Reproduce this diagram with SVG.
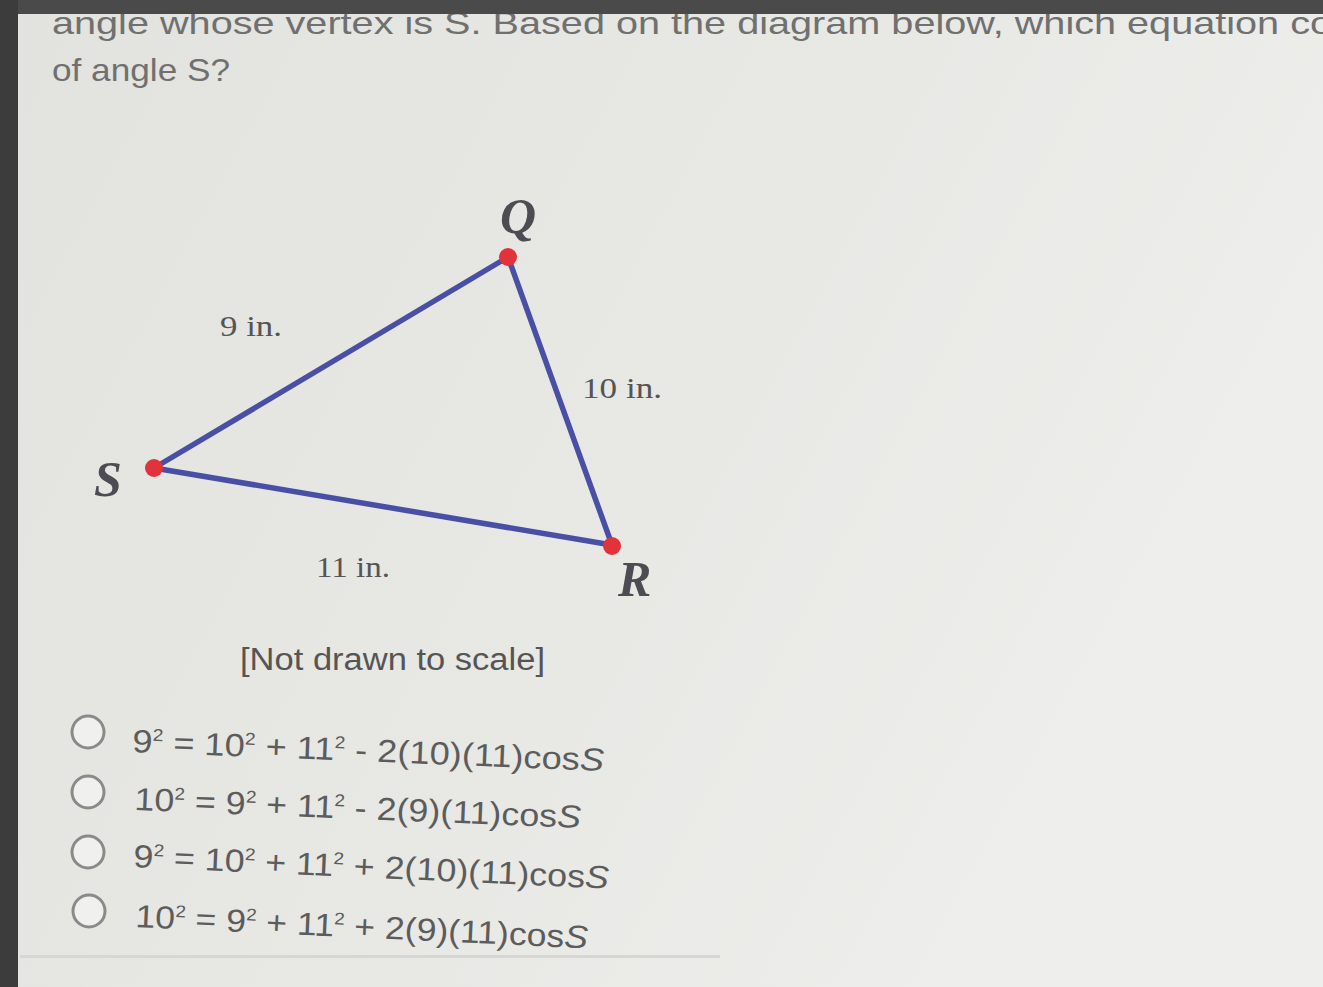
<svg xmlns="http://www.w3.org/2000/svg" width="1323" height="987" viewBox="0 0 1323 987">
<defs>
<linearGradient id="bg" x1="0" y1="0" x2="1" y2="0.4">
<stop offset="0" stop-color="#e2e2de"/>
<stop offset="0.6" stop-color="#e8e8e5"/>
<stop offset="1" stop-color="#eeeeec"/>
</linearGradient>
<style>
.q{font-family:"Liberation Sans",Arial,sans-serif;fill:#707070;font-size:32px}
.opt{font-family:"Liberation Sans",Arial,sans-serif;fill:#5c5c5c;font-size:32px}
.sup{font-size:17px}
.len{font-family:"Liberation Serif","Times New Roman",serif;fill:#555;font-size:30px}
.vtx{font-family:"Liberation Serif","Times New Roman",serif;font-style:italic;font-weight:bold;fill:#4c4c52;font-size:50px}
.edge{stroke:#4a4fa6;stroke-width:5.5;stroke-linecap:round;fill:none}
.dot{fill:#e2333d}
.radio{fill:#f0f0ee;stroke:#8a8a8a;stroke-width:3}
</style>
</defs>
<rect width="1323" height="987" fill="url(#bg)"/>
<rect x="20" y="955" width="700" height="3" fill="#d6d6d2"/>
<text class="q" x="52" y="34" textLength="1280" lengthAdjust="spacingAndGlyphs">angle whose vertex is S. Based on the diagram below, which equation co</text>
<rect x="0" y="0" width="1323" height="14" fill="#4a4a4a"/>
<rect x="0" y="0" width="18" height="987" fill="#3c3c3c"/>
<text class="q" x="52" y="81" textLength="178" lengthAdjust="spacingAndGlyphs">of angle S?</text>
<g id="connectors">
<line class="edge" x1="154" y1="468" x2="508" y2="257"/>
<line class="edge" x1="508" y1="257" x2="612" y2="545"/>
<line class="edge" x1="154" y1="468" x2="612" y2="545"/>
</g>
<g id="vertex-Q"><circle class="dot" cx="508" cy="257" r="9"/><text class="vtx" x="500" y="233">Q</text></g>
<g id="vertex-S"><circle class="dot" cx="154" cy="468" r="9"/><text class="vtx" x="94" y="496">S</text></g>
<g id="vertex-R"><circle class="dot" cx="612" cy="546" r="9"/><text class="vtx" x="618" y="596">R</text></g>
<g id="labels">
<text class="len" x="220" y="336" textLength="62" lengthAdjust="spacingAndGlyphs">9 in.</text>
<text class="len" x="582" y="398" textLength="80" lengthAdjust="spacingAndGlyphs">10 in.</text>
<text class="len" x="316" y="577" textLength="74" lengthAdjust="spacingAndGlyphs">11 in.</text>
</g>
<text class="opt" x="240" y="670" textLength="305" lengthAdjust="spacingAndGlyphs" style="font-size:31px;fill:#555">[Not drawn to scale]</text>
<g id="option-1">
<circle class="radio" cx="88" cy="732" r="16"/>
<text class="opt" x="132" y="752" transform="rotate(2.3 132 752)" textLength="472" lengthAdjust="spacingAndGlyphs">9<tspan class="sup" dy="-12">2</tspan><tspan dy="12"> = 10</tspan><tspan class="sup" dy="-12">2</tspan><tspan dy="12"> + 11</tspan><tspan class="sup" dy="-12">2</tspan><tspan dy="12"> - 2(10)(11)cos</tspan><tspan font-style="italic">S</tspan></text>
</g>
<g id="option-2">
<circle class="radio" cx="88" cy="792" r="16"/>
<text class="opt" x="134" y="810" transform="rotate(2.3 134 810)" textLength="447" lengthAdjust="spacingAndGlyphs">10<tspan class="sup" dy="-12">2</tspan><tspan dy="12"> = 9</tspan><tspan class="sup" dy="-12">2</tspan><tspan dy="12"> + 11</tspan><tspan class="sup" dy="-12">2</tspan><tspan dy="12"> - 2(9)(11)cos</tspan><tspan font-style="italic">S</tspan></text>
</g>
<g id="option-3">
<circle class="radio" cx="88" cy="852" r="16"/>
<text class="opt" x="133" y="867" transform="rotate(2.6 133 867)" textLength="476" lengthAdjust="spacingAndGlyphs">9<tspan class="sup" dy="-12">2</tspan><tspan dy="12"> = 10</tspan><tspan class="sup" dy="-12">2</tspan><tspan dy="12"> + 11</tspan><tspan class="sup" dy="-12">2</tspan><tspan dy="12"> + 2(10)(11)cos</tspan><tspan font-style="italic">S</tspan></text>
</g>
<g id="option-4">
<circle class="radio" cx="89" cy="911" r="16"/>
<text class="opt" x="135" y="927" transform="rotate(2.7 135 927)" textLength="453" lengthAdjust="spacingAndGlyphs">10<tspan class="sup" dy="-12">2</tspan><tspan dy="12"> = 9</tspan><tspan class="sup" dy="-12">2</tspan><tspan dy="12"> + 11</tspan><tspan class="sup" dy="-12">2</tspan><tspan dy="12"> + 2(9)(11)cos</tspan><tspan font-style="italic">S</tspan></text>
</g>
</svg>
